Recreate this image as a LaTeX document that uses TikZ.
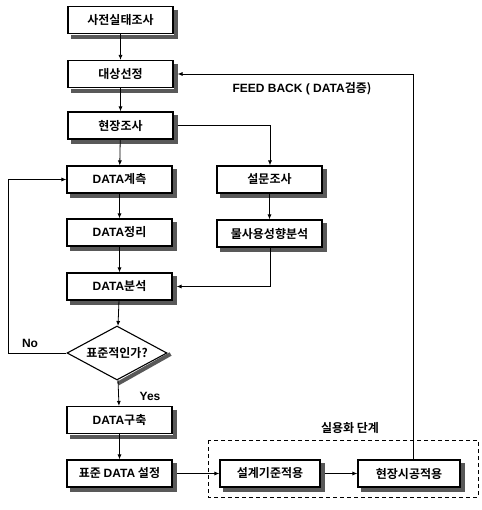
\documentclass[tikz,border=0pt]{standalone}
\usepackage{fontspec}
\setmainfont{Noto Sans CJK KR}[BoldFont={Noto Sans CJK KR Bold}]
\newfontfamily\lat{Liberation Sans}
\usetikzlibrary{shapes.geometric,arrows.meta}
\begin{document}
\begin{tikzpicture}[x=1pt,y=1pt,
  every node/.style={font=\fontsize{12}{14}\selectfont\bfseries},
  box/.style={draw,line width=1.1pt,minimum width=105pt,minimum height=27pt,inner sep=0pt},
  dia/.style={draw,line width=1.1pt,diamond,aspect=1.85,minimum width=100pt,minimum height=54pt,inner sep=0pt},
  shd/.style={line width=4pt,draw=black!65},
  arr/.style={line width=0.8pt,-{Latex[length=5pt,width=4pt]}},
  lbl/.style={inner sep=0pt}]
\useasboundingbox (0,0) rectangle (481,-510);
\node[box] (s1) at (120.5,-20) {사전실태조사};
\node[box] (s2) at (120.5,-74) {대상선정};
\node[box] (s3) at (120.5,-125.5) {현장조사};
\node[box] (s4) at (119.5,-179.5) {{\lat DATA}계측};
\node[box] (s5) at (119.5,-232.5) {{\lat DATA}정리};
\node[box] (s6) at (119.5,-286.5) {{\lat DATA}분석};
\node[dia] (d) at (117,-353) {표준적인가?};
\node[box] (s7) at (119.5,-420) {{\lat DATA}구축};
\node[box] (s8) at (119.5,-473.5) {표준 {\lat DATA} 설정};
\node[box] (r1) at (269.5,-179.5) {설문조사};
\node[box] (r2) at (269.5,-233.5) {물사용성향분석};
\node[box,minimum width=100pt] (b1) at (270,-473.5) {설계기준적용};
\node[box,minimum width=102pt] (b2) at (409,-473.5) {현장시공적용};
\foreach \nm in {s1,s2,s3,s4,s5,s6,s7,s8,r1,r2,b1,b2}
  \draw[shd] ([xshift=2.6pt,yshift=-4pt]\nm.north east) -- ([xshift=2.6pt,yshift=-2.6pt]\nm.south east) -- ([xshift=4pt,yshift=-2.6pt]\nm.south west);
\draw[shd] ([xshift=3pt,yshift=-1pt]d.east) -- ([xshift=1pt,yshift=-3pt]d.south);
\draw[line width=0.9pt,dash pattern=on 4pt off 3pt] (208,-440) rectangle (478,-497);
\node[lbl] (t1) at (350,-428) {실용화 단계};
\node[lbl] (t2) at (302,-89) {{\lat FEED BACK ( DATA}검증)};
\node[lbl] (t3) at (30,-343) {\lat No};
\node[lbl] (t4) at (150,-396) {\lat Yes};
\coordinate (nl) at (8,-353);
\coordinate (fb) at (413,-74);
\coordinate (rj) at (270,-125.5);
\coordinate (rk) at (270,-286.5);
\draw[arr] (s1) -- (s2);
\draw[arr] (s2) -- (s3);
\draw[arr] (s3) -- (s4);
\draw[arr] (s4) -- (s5);
\draw[arr] (s5) -- (s6);
\draw[arr] (s6) -- (d);
\draw[arr] (d) -- (s7);
\draw[arr] (s7) -- (s8);
\draw[arr] ([xshift=4pt]s3.east) -- (rj) -- (r1.north -| rj);
\draw[arr] (r1) -- (r2);
\draw[arr] (r2.south -| rk) -- (rk) -- ([xshift=4pt]s6.east);
\draw[arr] (d.west) -- (nl) |- (s4.west);
\draw[arr] ([xshift=4pt]s8.east) -- (b1.west);
\draw[arr] ([xshift=4pt]b1.east) -- (b2.west);
\draw[arr] (b2.north -| fb) -- (fb) -- ([xshift=4pt]s2.east);
\end{tikzpicture}
\end{document}
